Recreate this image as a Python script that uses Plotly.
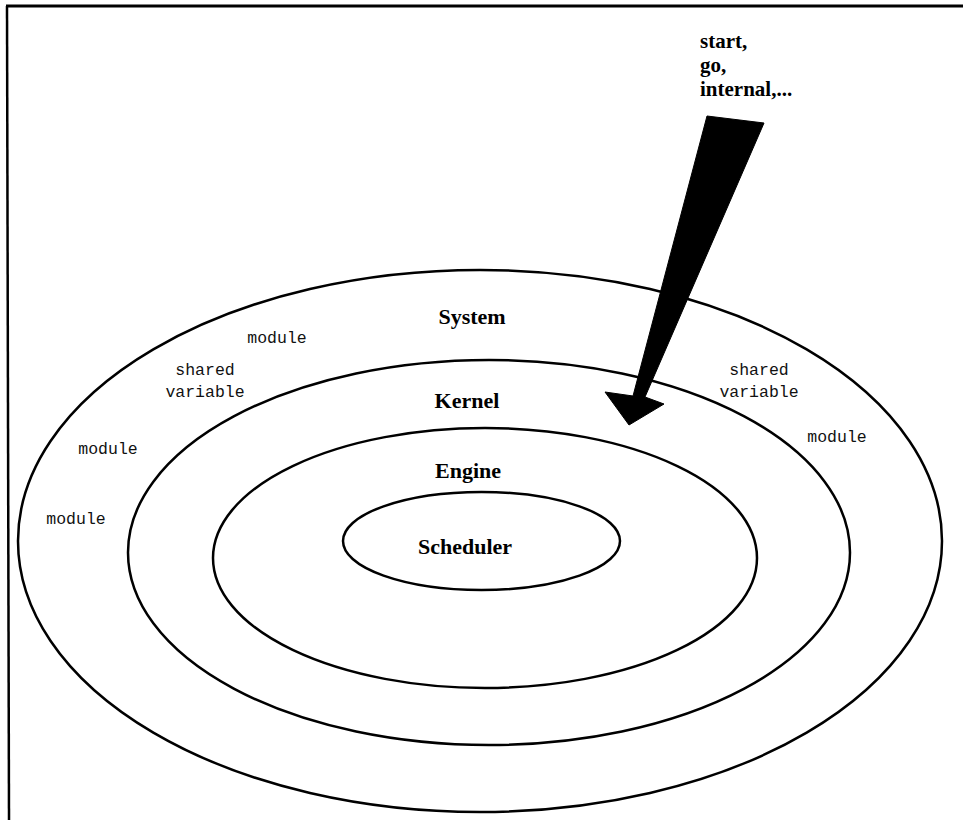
import plotly.graph_objects as go

W, H = 963, 820

# Ring (ellipse) geometry: name, left, right, top, bottom (pixel coords)
ring_names = ["System", "Kernel", "Engine", "Scheduler"]
ring_left = [18, 128, 213, 343]
ring_right = [942, 850, 757, 620]
ring_top = [270, 360, 428, 492]
ring_bottom = [812, 745, 688, 590]

# Ring labels
label_text = ["System", "Kernel", "Engine", "Scheduler"]
label_x = [472, 467, 468, 465]
label_y = [318, 402, 472, 548]

# Small monospace labels
small_text = ["module", "shared<br>variable", "module", "module",
              "shared<br>variable", "module"]
small_x = [277, 205, 108, 76, 759, 837]
small_y = [339, 382, 450, 520, 382, 438]

# Entry arrow polygon
arrow_x = [707, 764, 645, 664, 629, 605, 633, 707]
arrow_y = [116, 123, 397, 404, 425, 392, 396, 116]

# Entry command lines
entry_lines = ["start,", "go,", "internal,..."]
entry_y = [41, 65, 89]

fig = go.Figure()

shapes = []
# frame lines (top and left)
shapes.append(dict(type="line", x0=6, y0=6, x1=963, y1=6,
                   line=dict(color="black", width=3)))
shapes.append(dict(type="line", x0=7, y0=6, x1=9, y1=820,
                   line=dict(color="black", width=2.5)))
for l, r, t, b in zip(ring_left, ring_right, ring_top, ring_bottom):
    shapes.append(dict(type="circle", xref="x", yref="y",
                       x0=l, x1=r, y0=t, y1=b,
                       line=dict(color="black", width=2.5)))

fig.add_trace(go.Scatter(x=arrow_x, y=arrow_y, mode="lines", fill="toself",
                         fillcolor="black", line=dict(color="black", width=1),
                         hoverinfo="skip", showlegend=False))

fig.add_trace(go.Scatter(x=label_x, y=label_y, mode="text", text=label_text,
                         textfont=dict(family="Liberation Serif", size=22,
                                       color="black", weight="bold"),
                         hoverinfo="skip", showlegend=False))

fig.add_trace(go.Scatter(x=small_x, y=small_y, mode="text", text=small_text,
                         textfont=dict(family="Liberation Mono", size=16.5,
                                       color="#111111"),
                         hoverinfo="skip", showlegend=False))

for txt, yy in zip(entry_lines, entry_y):
    fig.add_annotation(x=698, y=yy, xref="x", yref="y", text=txt,
                       showarrow=False, xanchor="left", yanchor="middle",
                       font=dict(family="Liberation Serif", size=21,
                                 color="black", weight="bold"))

fig.update_layout(
    width=W, height=H,
    margin=dict(l=0, r=0, t=0, b=0),
    paper_bgcolor="white", plot_bgcolor="white",
    shapes=shapes,
    xaxis=dict(range=[0, W], visible=False, fixedrange=True),
    yaxis=dict(range=[H, 0], visible=False, fixedrange=True),
    showlegend=False,
)

fig.write_html("out.html", config={"displayModeBar": False},
               post_script="document.body.style.margin='0';"
                           "document.body.style.overflow='hidden';")
